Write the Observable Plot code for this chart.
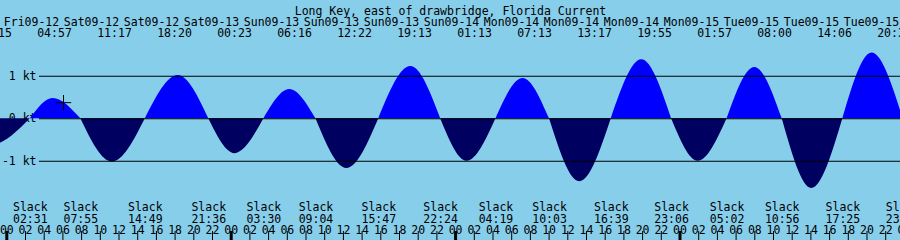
<!DOCTYPE html>
<html><head><meta charset="utf-8">
<script src="https://cdn.jsdelivr.net/npm/d3@7"></script>
<script src="https://cdn.jsdelivr.net/npm/@observablehq/plot@0.6"></script>
<style>html,body{margin:0;padding:0;overflow:hidden;background:#87CEEB}</style>
</head><body><div id="chart"></div>
<script>
const title = "Long Key, east of drawbridge, Florida Current";

// Max flood / max ebb events (local time), speed in knots
const extremeTimes = [
  "2025-09-11T22:15", "2025-09-12T04:57", "2025-09-12T11:17", "2025-09-12T18:20",
  "2025-09-13T00:23", "2025-09-13T06:16", "2025-09-13T12:22", "2025-09-13T19:13",
  "2025-09-14T01:13", "2025-09-14T07:13", "2025-09-14T13:17", "2025-09-14T19:55",
  "2025-09-15T01:57", "2025-09-15T08:00", "2025-09-15T14:06", "2025-09-15T20:32"
];
const extremeKnots = [
  -0.63, 0.48, -1.02, 1.02,
  -0.82, 0.69, -1.17, 1.23,
  -1.00, 0.95, -1.48, 1.39,
  -1.00, 1.21, -1.64, 1.55
];
const extremeDateLabels = [
  "Fri09-12", "Sat09-12", "Sat09-12", "Sat09-13", "Sun09-13", "Sun09-13", "Sun09-13", "Sun09-14",
  "Mon09-14", "Mon09-14", "Mon09-14", "Mon09-15", "Tue09-15", "Tue09-15", "Tue09-15"
];
// Slack water times
const slackTimes = [
  "2025-09-11T18:50",
  "2025-09-12T02:31", "2025-09-12T07:55", "2025-09-12T14:49", "2025-09-12T21:36",
  "2025-09-13T03:30", "2025-09-13T09:04", "2025-09-13T15:47", "2025-09-13T22:24",
  "2025-09-14T04:19", "2025-09-14T10:03", "2025-09-14T16:39", "2025-09-14T23:06",
  "2025-09-15T05:02", "2025-09-15T10:56", "2025-09-15T17:25", "2025-09-15T23:52"
];
const levelKnots = [1, 0, -1];
const levelLabels = ["1 kt", "0 kt", "-1 kt"];
const markerTime = "2025-09-12T06:04";
const markerKnots = 0.38;

const floodColor = "#0000ff";
const ebbColor = "#000060";

const parse = s => new Date(s + ":00Z");
const H = 3600e3;
const base = Date.UTC(2025, 8, 12);

const segments = [];
extremeTimes.forEach((t, i) => {
  const c = extremeKnots[i] >= 0 ? floodColor : ebbColor;
  segments.push(
    {seg: i, t: parse(slackTimes[i]), v: 0, c},
    {seg: i, t: parse(t), v: extremeKnots[i], c},
    {seg: i, t: parse(slackTimes[i + 1]), v: 0, c}
  );
});
const slacks = slackTimes.map(t => ({t: parse(t), label: t.slice(11, 16)}));
const levels = levelKnots.map((v, i) => ({v, label: levelLabels[i]}));
const hours = d3.utcHour.every(2).range(new Date(base), new Date(base + 96 * H + 1));

// header labels sit in evenly spaced slots across the top, in event order
const W = 900;
const slotWidth = W / 15;
const slotStart = -6;
const headerMarks = extremeTimes.flatMap((t, i) => {
  const dx = slotStart + slotWidth * i;
  const marks = [Plot.text([t.slice(11, 16)], {text: d => d, frameAnchor: "top-left", textAnchor: "middle", dx, dy: 28.5, fill: "black"})];
  if (extremeDateLabels[i]) marks.push(Plot.text([extremeDateLabels[i]], {text: d => d, frameAnchor: "top-left", textAnchor: "middle", dx: dx + 37, dy: 17.5, fill: "black"}));
  return marks;
});

const font = "DejaVu Sans Mono";
const chart = Plot.plot({
  width: W, height: 240,
  marginTop: 0, marginRight: 0, marginBottom: 0, marginLeft: 0,
  x: {type: "utc", domain: [new Date(base - 0.674 * H), new Date(base + 95.583 * H)], axis: null},
  y: {domain: [-2.864, 2.784], axis: null},
  color: {type: "identity"},
  style: {background: "#87CEEB", fontFamily: font, fontSize: "11.5px", overflow: "hidden", color: "black"},
  marks: [
    Plot.text(levels, {y: "v", text: "label", frameAnchor: "left", textAnchor: "end", dx: 36, fill: "black"}),
    Plot.areaY(segments, {x: "t", y: "v", z: "seg", fill: "c", curve: "monotone-x"}),
    Plot.ruleY(levels, {y: "v", insetLeft: 39, stroke: "black", strokeWidth: 1.1}),
    Plot.dot([{t: parse(markerTime), v: markerKnots}], {x: "t", y: "v", symbol: "plus", r: 5, stroke: "black", strokeWidth: 1}),
    Plot.text([title], {frameAnchor: "top", dy: 6, text: d => d, fill: "black"}),
    ...headerMarks,
    Plot.text(slacks, {x: "t", text: () => "Slack", frameAnchor: "top", dy: 202, fill: "black"}),
    Plot.text(slacks, {x: "t", text: "label", frameAnchor: "top", dy: 214, fill: "black"}),
    Plot.text(hours, {x: d => d, text: d => d3.utcFormat("%H")(d), frameAnchor: "top", dy: 225, fill: "black"}),
    Plot.ruleX(hours, {x: d => d, insetTop: 231, stroke: "black", strokeWidth: d => d.getUTCHours() === 0 ? 3 : 1})
  ]
});
document.getElementById("chart").appendChild(chart);
</script>
</body></html>
